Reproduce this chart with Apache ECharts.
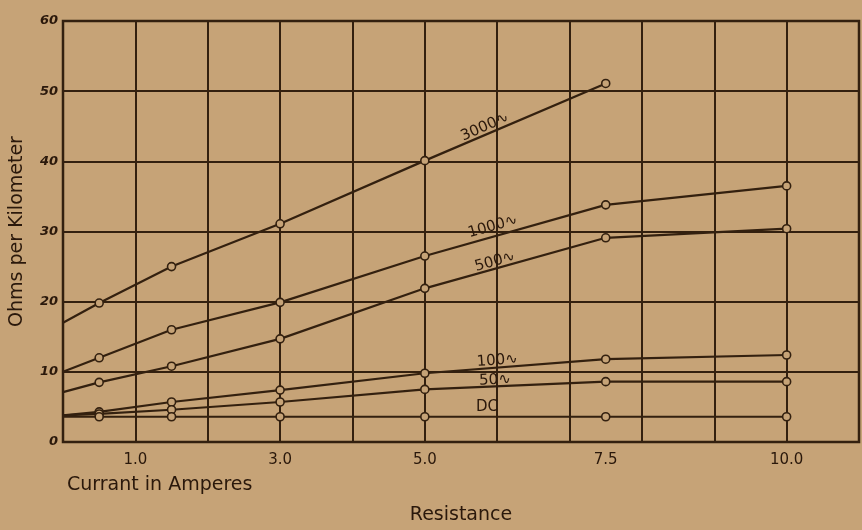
<!DOCTYPE html>
<html>
<head>
<meta charset="utf-8">
<script src="https://cdn.jsdelivr.net/npm/echarts@6/dist/echarts.min.js"></script>
<style>
  html, body { margin: 0; padding: 0; background: #c6a377; }
  #chart { width: 862px; height: 530px; }
</style>
</head>
<body>
<div id="chart"></div>
<script>
// Current (amperes) at which each resistance was measured
const currents = [0, 0.5, 1.5, 3.0, 5.0, 7.5, 10.0];

// Resistance in ohms per kilometer, one list per frequency
const curveNames = ['3000∿', '1000∿', '500∿', '100∿', '50∿', 'DC'];
const ohms3000 = [17.0, 19.8, 25.0, 31.1, 40.1, 51.1, null];
const ohms1000 = [10.0, 12.0, 16.0, 19.9, 26.5, 33.8, 36.5];
const ohms500  = [7.1, 8.5, 10.8, 14.7, 21.9, 29.1, 30.4];
const ohms100  = [3.8, 4.3, 5.7, 7.4, 9.8, 11.8, 12.4];
const ohms50   = [3.8, 4.0, 4.6, 5.7, 7.5, 8.6, 8.6];
const ohmsDC   = [3.6, 3.6, 3.6, 3.6, 3.6, 3.6, 3.6];

// Labelled current values along the bottom axis
const xTickValues = [1.0, 3.0, 5.0, 7.5, 10.0];

const ink = '#33200f';
const textInk = '#2a180b';
const paper = '#c6a377';
const allCurves = [ohms3000, ohms1000, ohms500, ohms100, ohms50, ohmsDC];

// Where each curve's name is written (current, ohms) and its tilt in degrees
const tagPlacement = [
  { at: [5.83, 44.9], tilt: 24 },
  { at: [5.94, 30.7], tilt: 16 },
  { at: [5.97, 25.7], tilt: 16 },
  { at: [6.0, 11.6], tilt: 4 },
  { at: [5.97, 8.8], tilt: 2 },
  { at: [5.86, 5.0], tilt: 0 }
];

function toPoints(values) {
  const pts = [];
  values.forEach((v, i) => {
    if (v === null) return;
    // the curve is extended back to zero current without a measured point
    if (currents[i] === 0) pts.push({ value: [currents[i], v], symbol: 'none' });
    else pts.push([currents[i], v]);
  });
  return pts;
}

const chart = echarts.init(document.getElementById('chart'), null, { renderer: 'canvas' });

const series = allCurves.map((vals, k) => ({
  name: curveNames[k],
  type: 'line',
  data: toPoints(vals),
  symbol: 'circle',
  symbolSize: 8,
  showAllSymbol: true,
  lineStyle: { color: ink, width: 2.2 },
  itemStyle: { color: paper, borderColor: ink, borderWidth: 1.6 },
  emphasis: { disabled: true },
  silent: true,
  animation: false,
  z: 3
}));

chart.setOption({
  backgroundColor: paper,
  animation: false,
  grid: {
    left: 63, right: 3, top: 21, bottom: 87,
    show: true, borderColor: ink, borderWidth: 2.5, backgroundColor: 'transparent'
  },
  xAxis: {
    type: 'value', min: 0, max: 11, interval: 1,
    axisLine: { show: false },
    axisTick: { show: false },
    splitLine: { show: true, lineStyle: { color: ink, width: 2 } },
    axisLabel: {
      customValues: xTickValues,
      formatter: v => v.toFixed(1),
      color: textInk, fontFamily: 'DejaVu Sans', fontSize: 15, margin: 11
    },
    name: 'Resistance',
    nameLocation: 'middle',
    nameGap: 64,
    nameTextStyle: { color: textInk, fontFamily: 'DejaVu Sans', fontSize: 19 }
  },
  yAxis: {
    type: 'value', min: 0, max: 60, interval: 10,
    axisLine: { show: false },
    axisTick: { show: false },
    splitLine: { show: true, lineStyle: { color: ink, width: 2 } },
    axisLabel: {
      color: textInk, fontFamily: 'DejaVu Sans', fontStyle: 'italic',
      fontWeight: 'bold', fontSize: 13, margin: 5
    },
    name: 'Ohms per Kilometer',
    nameLocation: 'middle',
    nameGap: 36,
    nameRotate: 90,
    nameTextStyle: { color: textInk, fontFamily: 'DejaVu Sans', fontSize: 19 }
  },
  series: series
});

// Curve names and the lower-left axis caption, placed through the chart's own scales
function placeTags() {
  const elements = tagPlacement.map((t, k) => {
    const p = chart.convertToPixel({ gridIndex: 0 }, t.at);
    return {
      type: 'text',
      x: p[0], y: p[1],
      rotation: t.tilt * Math.PI / 180,
      style: {
        text: curveNames[k],
        fill: textInk,
        font: '15px "DejaVu Sans"',
        align: 'center',
        verticalAlign: 'middle'
      },
      z: 10
    };
  });
  elements.push({
    type: 'text',
    left: 67, top: 476,
    style: { text: 'Currant in Amperes', fill: textInk, font: '19px "DejaVu Sans"' },
    z: 10
  });
  chart.setOption({ graphic: elements });
}
placeTags();
</script>
</body>
</html>
